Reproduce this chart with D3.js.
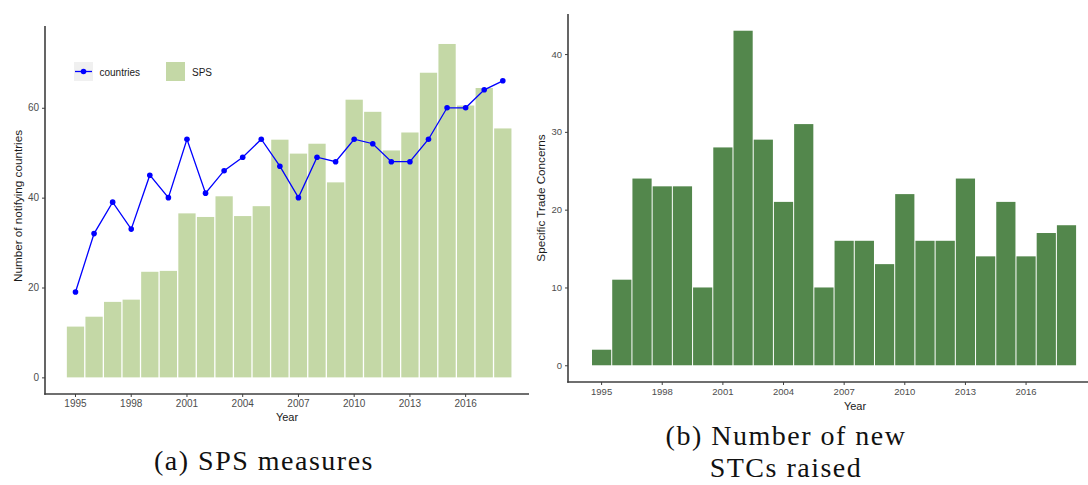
<!DOCTYPE html>
<html>
<head>
<meta charset="utf-8">
<script src="https://cdn.jsdelivr.net/npm/d3@7"></script>
<style>
  html, body { margin: 0; padding: 0; background: #fff; }
  svg { display: block; }
  .tick text { font-family: "Liberation Sans", Arial, sans-serif; fill: #4d4d4d; }
  .axis-title { font-family: "Liberation Sans", Arial, sans-serif; fill: #1a1a1a; }
  .caption { font-family: "Liberation Serif", "DejaVu Serif", serif; fill: #111; letter-spacing: 1.5px; }
</style>
</head>
<body>
<svg id="chart" width="1088" height="485"></svg>
<script>
// Years shared by both panels
const years = [1995, 1996, 1997, 1998, 1999, 2000, 2001, 2002, 2003, 2004, 2005, 2006,
               2007, 2008, 2009, 2010, 2011, 2012, 2013, 2014, 2015, 2016, 2017, 2018];
const yearTicks = [1995, 1998, 2001, 2004, 2007, 2010, 2013, 2016];

// Panel (a): SPS measures (bars) and number of notifying countries (line)
const spsMeasures = [11.3, 13.5, 16.8, 17.3, 23.5, 23.7, 36.5, 35.7, 40.3, 35.9, 38.1, 52.9,
                     49.8, 52.0, 43.4, 61.8, 59.1, 50.5, 54.5, 67.8, 74.2, 60.5, 64.4, 55.4];
const countries = [19, 32, 39, 33, 45, 40, 53, 41, 46, 49, 53, 47,
                   40, 49, 48, 53, 52, 48, 48, 53, 60, 60, 64, 66];
const ticksA = [0, 20, 40, 60];

// Panel (b): new specific trade concerns raised per year
const stcs = [2, 11, 24, 23, 23, 10, 28, 43, 29, 21, 31, 10,
              16, 16, 13, 22, 16, 16, 24, 14, 21, 14, 17, 18];
const ticksB = [0, 10, 20, 30, 40];

const svg = d3.select("#chart");
const axisColor = "#3f3f3f";

function styleAxis(g, fontSize) {
  g.select(".domain").remove();
  g.selectAll(".tick line").attr("stroke", axisColor).attr("stroke-width", 1);
  g.selectAll(".tick text").style("font-size", fontSize + "px");
}

// ---------- Panel (a) ----------
{
  const left = 45, right = 529, top = 26, bottom = 394;
  const x = d3.scaleBand().domain(years).range([66.2, 512.1])
    .paddingInner(0.07).paddingOuter(0.035);
  const y = d3.scaleLinear().domain([-3.7, 78.2]).range([bottom, top]);
  const g = svg.append("g");

  g.selectAll("rect.sps").data(years).join("rect")
    .attr("class", "sps")
    .attr("x", d => x(d))
    .attr("width", x.bandwidth())
    .attr("y", (d, i) => y(spsMeasures[i]))
    .attr("height", (d, i) => y(0) - y(spsMeasures[i]))
    .attr("fill", "#c4d8a6");

  const line = d3.line()
    .x((d, i) => x(years[i]) + x.bandwidth() / 2)
    .y(d => y(d));
  g.append("path").datum(countries)
    .attr("d", line).attr("fill", "none")
    .attr("stroke", "#0000ff").attr("stroke-width", 1.3);
  g.selectAll("circle.pt").data(countries).join("circle")
    .attr("class", "pt")
    .attr("cx", (d, i) => x(years[i]) + x.bandwidth() / 2)
    .attr("cy", d => y(d))
    .attr("r", 2.8).attr("fill", "#0000ff");

  // axes
  const yAxis = g.append("g").attr("transform", `translate(${left},0)`)
    .call(d3.axisLeft(y).tickValues(ticksA).tickSize(3).tickPadding(3));
  styleAxis(yAxis, 10);
  const xAxis = g.append("g").attr("transform", `translate(0,${bottom})`)
    .call(d3.axisBottom(x).tickValues(yearTicks).tickSize(3).tickPadding(3));
  styleAxis(xAxis, 10);
  g.append("line").attr("x1", left).attr("x2", left).attr("y1", top).attr("y2", bottom + 0.75)
    .attr("stroke", axisColor).attr("stroke-width", 1.6);
  g.append("line").attr("x1", left - 0.75).attr("x2", right).attr("y1", bottom).attr("y2", bottom)
    .attr("stroke", axisColor).attr("stroke-width", 1.6);

  g.append("text").attr("class", "axis-title")
    .attr("x", (left + right) / 2).attr("y", 421)
    .attr("text-anchor", "middle").style("font-size", "11px").text("Year");
  g.append("text").attr("class", "axis-title")
    .attr("transform", "translate(22,206) rotate(-90)")
    .attr("text-anchor", "middle").style("font-size", "11.7px")
    .text("Number of notifying countries");

  // legend
  const lg = g.append("g");
  lg.append("rect").attr("x", 74).attr("y", 62).attr("width", 19).attr("height", 19)
    .attr("fill", "#f0f0f0");
  lg.append("line").attr("x1", 75).attr("x2", 92).attr("y1", 71.5).attr("y2", 71.5)
    .attr("stroke", "#0000ff").attr("stroke-width", 1.3);
  lg.append("circle").attr("cx", 83.5).attr("cy", 71.5).attr("r", 2.8).attr("fill", "#0000ff");
  lg.append("text").attr("class", "axis-title").attr("x", 99.5).attr("y", 75.5)
    .style("font-size", "10px").text("countries");
  lg.append("rect").attr("x", 166).attr("y", 62).attr("width", 19).attr("height", 19)
    .attr("fill", "#c4d8a6");
  lg.append("text").attr("class", "axis-title").attr("x", 192).attr("y", 75.5)
    .style("font-size", "10px").text("SPS");

  svg.append("text").attr("class", "caption")
    .attr("x", 264).attr("y", 470).attr("text-anchor", "middle")
    .style("font-size", "28px").text("(a) SPS measures");
}

// ---------- Panel (b) ----------
{
  const left = 568, right = 1088, top = 14, bottom = 382;
  const x = d3.scaleBand().domain(years).range([591.5, 1076.6])
    .paddingInner(0.05).paddingOuter(0.025);
  const y = d3.scaleLinear().domain([-2.15, 45.15]).range([bottom, top]);
  const g = svg.append("g");

  g.selectAll("rect.stc").data(years).join("rect")
    .attr("class", "stc")
    .attr("x", d => x(d))
    .attr("width", x.bandwidth())
    .attr("y", (d, i) => y(stcs[i]))
    .attr("height", (d, i) => y(0) - y(stcs[i]))
    .attr("fill", "#53874c");

  const yAxis = g.append("g").attr("transform", `translate(${left},0)`)
    .call(d3.axisLeft(y).tickValues(ticksB).tickSize(3).tickPadding(3));
  styleAxis(yAxis, 9.5);
  const xAxis = g.append("g").attr("transform", `translate(0,${bottom})`)
    .call(d3.axisBottom(x).tickValues(yearTicks).tickSize(3).tickPadding(3));
  styleAxis(xAxis, 9.5);
  g.append("line").attr("x1", left).attr("x2", left).attr("y1", top).attr("y2", bottom + 0.75)
    .attr("stroke", axisColor).attr("stroke-width", 1.6);
  g.append("line").attr("x1", left - 0.75).attr("x2", right).attr("y1", bottom).attr("y2", bottom)
    .attr("stroke", axisColor).attr("stroke-width", 1.6);

  g.append("text").attr("class", "axis-title")
    .attr("x", 855).attr("y", 410)
    .attr("text-anchor", "middle").style("font-size", "11px").text("Year");
  g.append("text").attr("class", "axis-title")
    .attr("transform", "translate(545,198) rotate(-90)")
    .attr("text-anchor", "middle").style("font-size", "11.7px")
    .text("Specific Trade Concerns");

  svg.append("text").attr("class", "caption")
    .attr("x", 786).attr("y", 445).attr("text-anchor", "middle")
    .style("font-size", "28px").text("(b) Number of new");
  svg.append("text").attr("class", "caption")
    .attr("x", 786).attr("y", 477).attr("text-anchor", "middle")
    .style("font-size", "28px").text("STCs raised");
}
</script>
</body>
</html>
